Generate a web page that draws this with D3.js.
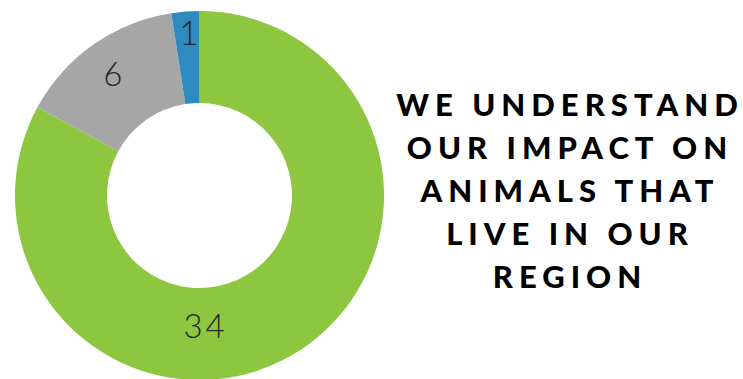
<!DOCTYPE html>
<html>
<head>
<meta charset="utf-8">
<script src="https://cdn.jsdelivr.net/npm/d3@7"></script>
<style>
  body { margin: 0; background: #fff; }
</style>
</head>
<body>
<div id="chart"></div>
<script>
// data
var categories = ["Agree", "Neutral", "Disagree"];
var values = [34, 6, 1];
var colors = ["#8dc63f", "#a6a6a6", "#2e8bc0"];
var titleLines = ["WE UNDERSTAND", "OUR IMPACT ON", "ANIMALS THAT", "LIVE IN OUR", "REGION"];

var width = 743,
    height = 379;
var cx = 199.5,
    cy = 195.5,
    outer = 184.5,
    inner = 92.5;

var svg = d3.select("#chart")
    .append("svg")
    .attr("width", width)
    .attr("height", height);

var g = svg.append("g")
    .attr("transform", "translate(" + cx + "," + cy + ")");

var pie = d3.pie().sort(null).value(function(d) { return d; });
var arc = d3.arc().innerRadius(inner).outerRadius(outer);

var arcs = pie(values);

g.selectAll("path")
    .data(arcs)
    .enter().append("path")
    .attr("d", arc)
    .attr("fill", function(d, i) { return colors[i]; });

// label placement (radius from centre, angle shift in radians)
var labelLayout = [
    { r: 131, shift: 0.49 },
    { r: 148, shift: 0 },
    { r: 163, shift: 0.02 }
];

g.selectAll("text.lbl")
    .data(arcs)
    .enter().append("text")
    .attr("class", "lbl")
    .attr("x", function(d, i) {
        var a = (d.startAngle + d.endAngle) / 2 + labelLayout[i].shift;
        return labelLayout[i].r * Math.sin(a);
    })
    .attr("y", function(d, i) {
        var a = (d.startAngle + d.endAngle) / 2 + labelLayout[i].shift;
        return -labelLayout[i].r * Math.cos(a);
    })
    .attr("dy", "0.36em")
    .style("text-anchor", "middle")
    .style("font-family", "Lato, 'Open Sans', sans-serif")
    .style("font-weight", 300)
    .style("font-size", "33px")
    .style("letter-spacing", "3px")
    .style("fill", "#262626")
    .text(function(d) { return d.data; });

// title
svg.append("g")
    .selectAll("text")
    .data(titleLines)
    .enter().append("text")
    .attr("x", 570)
    .attr("y", function(d, i) { return 116 + i * 43; })
    .style("text-anchor", "middle")
    .style("font-family", "Lato, 'Open Sans', sans-serif")
    .style("font-weight", 900)
    .style("font-size", "31px")
    .style("letter-spacing", "6px")
    .style("fill", "#000")
    .text(function(d) { return d; });
</script>
</body>
</html>
